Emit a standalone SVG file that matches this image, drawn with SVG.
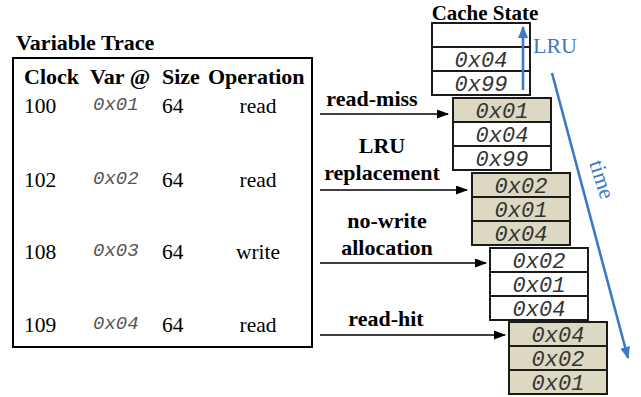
<svg xmlns="http://www.w3.org/2000/svg" width="641" height="397" viewBox="0 0 641 397">
<style>
.t{font-family:"Liberation Serif","Times New Roman",serif;fill:#000}
.b{font-weight:bold;font-size:22px}
.r{font-size:21.5px}
.v{font-family:"Liberation Mono","Courier New",monospace;font-style:italic;font-size:19px;fill:#555}
.c{font-family:"Liberation Mono","Courier New",monospace;font-style:italic;font-size:22px;fill:#333;text-anchor:middle}
.cell{stroke:#1a1a1a;stroke-width:2}
.w{fill:#fff}
.s{fill:#dcd8c2}
.ar{stroke:#000;stroke-width:1.6;fill:none;marker-end:url(#ah)}
.blue{stroke:#3d79c4;stroke-width:2.6;fill:none;marker-end:url(#bh)}
.m{text-anchor:middle}
.bt{fill:#3d79c4;font-size:22px}
</style>
<defs>
<marker id="ah" markerWidth="12" markerHeight="9" refX="11" refY="4.5" orient="auto" markerUnits="userSpaceOnUse"><path d="M0,0 L12,4.5 L0,9 Z" fill="#000"/></marker>
<marker id="bh" markerWidth="12" markerHeight="10" refX="11" refY="5" orient="auto" markerUnits="userSpaceOnUse"><path d="M0,0 L12,5 L0,10 Z" fill="#3d79c4"/></marker>
</defs>
<rect width="641" height="397" fill="#fff"/>

<g id="trace">
<text class="t b" x="16" y="50">Variable Trace</text>
<rect x="13" y="58" width="299" height="289" fill="none" stroke="#000" stroke-width="2"/>
<text class="t b" x="24" y="84">Clock</text>
<text class="t b" x="90" y="84">Var @</text>
<text class="t b" x="162" y="84">Size</text>
<text class="t b" x="208" y="84">Operation</text>
<text class="t r" x="24" y="113">100</text>
<text class="v" x="93" y="110">0x01</text>
<text class="t r" x="162" y="113">64</text>
<text class="t r m" x="258" y="113">read</text>
<text class="t r" x="24" y="187">102</text>
<text class="v" x="93" y="184">0x02</text>
<text class="t r" x="162" y="187">64</text>
<text class="t r m" x="258" y="187">read</text>
<text class="t r" x="24" y="259">108</text>
<text class="v" x="93" y="256">0x03</text>
<text class="t r" x="162" y="259">64</text>
<text class="t r m" x="258" y="259">write</text>
<text class="t r" x="24" y="332">109</text>
<text class="v" x="93" y="329">0x04</text>
<text class="t r" x="162" y="332">64</text>
<text class="t r m" x="258" y="332">read</text>
</g>

<g id="cache-title"><text class="t m" x="485" y="20" style="font-weight:bold;font-size:21px">Cache State</text></g>

<g id="cache0">
<rect class="cell w" x="432" y="23" width="98" height="24"/>
<rect class="cell w" x="432" y="47" width="98" height="24"/>
<rect class="cell w" x="432" y="71" width="98" height="24"/>
<text class="c" x="481" y="67">0x04</text>
<text class="c" x="481" y="91">0x99</text>
</g>

<g id="cache1">
<rect class="cell s" x="453" y="98" width="98" height="24"/>
<rect class="cell w" x="453" y="122" width="98" height="24"/>
<rect class="cell w" x="453" y="146" width="98" height="24"/>
<text class="c" x="502" y="118">0x01</text>
<text class="c" x="502" y="142">0x04</text>
<text class="c" x="502" y="166">0x99</text>
</g>

<g id="cache2">
<rect class="cell s" x="472" y="173" width="98" height="24"/>
<rect class="cell s" x="472" y="197" width="98" height="24"/>
<rect class="cell s" x="472" y="221" width="98" height="24"/>
<text class="c" x="521" y="193">0x02</text>
<text class="c" x="521" y="217">0x01</text>
<text class="c" x="521" y="241">0x04</text>
</g>

<g id="cache3">
<rect class="cell w" x="490" y="248" width="98" height="24"/>
<rect class="cell w" x="490" y="272" width="98" height="24"/>
<rect class="cell w" x="490" y="296" width="98" height="24"/>
<text class="c" x="539" y="268">0x02</text>
<text class="c" x="539" y="292">0x01</text>
<text class="c" x="539" y="316">0x04</text>
</g>

<g id="cache4">
<rect class="cell s" x="509" y="322" width="98" height="24"/>
<rect class="cell s" x="509" y="346" width="98" height="24"/>
<rect class="cell s" x="509" y="370" width="98" height="24"/>
<text class="c" x="558" y="342">0x04</text>
<text class="c" x="558" y="366">0x02</text>
<text class="c" x="558" y="390">0x01</text>
</g>

<g id="connectors">
<line class="ar" x1="320" y1="114" x2="448" y2="114"/>
<line class="ar" x1="320" y1="190" x2="467" y2="190"/>
<line class="ar" x1="320" y1="263" x2="486" y2="263"/>
<line class="ar" x1="320" y1="335" x2="505" y2="335"/>
<line class="blue" x1="523" y1="90" x2="523" y2="27"/>
<line class="blue" x1="552" y1="73" x2="628" y2="358"/>
</g>

<g id="labels">
<text class="t b m" x="372" y="106">read-miss</text>
<text class="t b m" x="382" y="153">LRU</text>
<text class="t b m" x="382" y="180">replacement</text>
<text class="t b m" x="387" y="228">no-write</text>
<text class="t b m" x="387" y="255">allocation</text>
<text class="t b m" x="386" y="326">read-hit</text>
<text class="t bt" x="533" y="53">LRU</text>
<text class="t bt" transform="translate(589,163) rotate(72)">time</text>
</g>
</svg>
